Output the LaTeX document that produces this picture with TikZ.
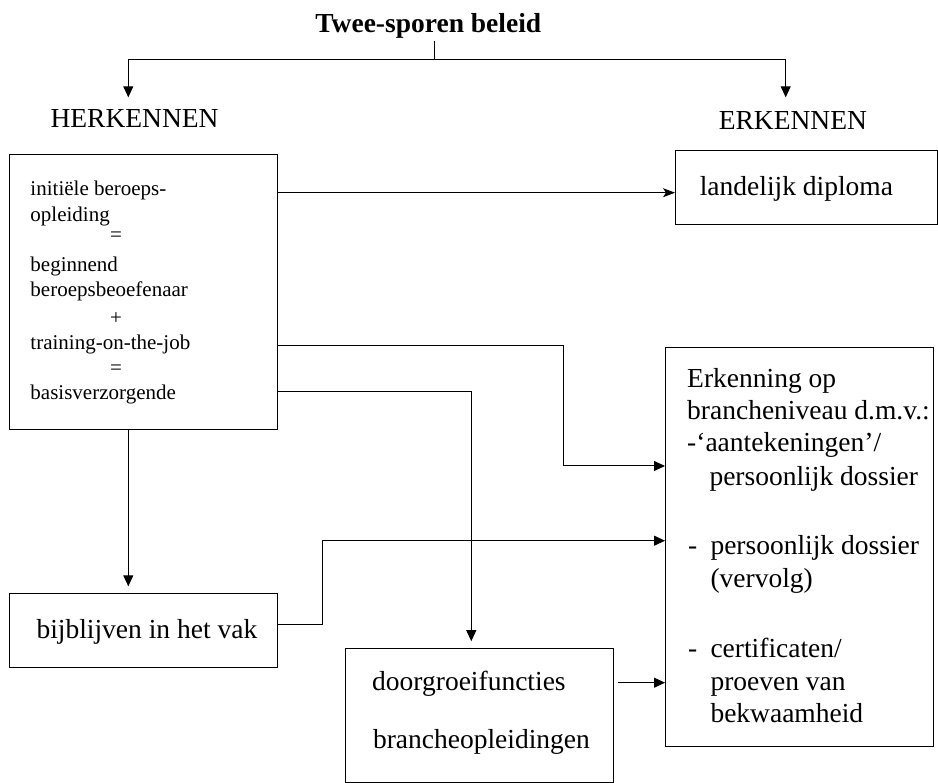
\documentclass[tikz,border=0pt]{standalone}
\usepackage{fontspec}
\setmainfont{Liberation Serif}
\usetikzlibrary{arrows.meta,calc}
\begin{document}
\begin{tikzpicture}[x=1pt,y=-1pt,line width=1pt,
  box/.style={draw,line width=1pt,inner sep=0pt,anchor=north west},
  big/.style={font=\fontsize{27.5}{33}\selectfont,inner sep=0pt,anchor=base west},
  small/.style={font=\fontsize{21}{25.5}\selectfont,inner sep=0pt,anchor=base west},
  arr/.style={-{Triangle[length=11pt,width=10pt]}},
  arrs/.style={-{Stealth[length=12pt,width=9pt,inset=3pt]}}]
\useasboundingbox (0,0) rectangle (938,783);
% title and branch labels
\node[font=\fontsize{27.5}{33}\selectfont\bfseries,inner sep=0pt,anchor=base] (title) at (428.3,32.7) {Twee-sporen beleid};
\node[big] (herk) at (50,127.3) {HERKENNEN};
\node[big] (erkl) at (718.3,129.3) {ERKENNEN};
% boxes
\node[box,minimum width=268pt,minimum height=275pt] (b1) at (9.3,154.3) {};
\node[box,minimum width=262pt,minimum height=74pt] (land) at (675,150) {};
\node[box,minimum width=268.3pt,minimum height=399.3pt] (erk) at (665,346.7) {};
\node[box,minimum width=268.3pt,minimum height=73.4pt] (bij) at (9,593.3) {};
\node[box,minimum width=268.3pt,minimum height=134pt] (door) at (345,647.7) {};
% box 1 text
\node[small] (t1) at (30,196) {initiële beroeps-};
\node[small] (t2) at (30,221.5) {opleiding};
\node[small,anchor=base] (t3) at (116,242) {=};
\node[small] (t4) at (30,271.5) {beginnend};
\node[small] (t5) at (30,296.5) {beroepsbeoefenaar};
\node[small,anchor=base] (t6) at (116,325) {+};
\node[small] (t7) at (30,349.5) {training-on-the-job};
\node[small,anchor=base] (t8) at (116,375) {=};
\node[small] (t9) at (30,400) {basisverzorgende};
% other texts
\node[big] (tland) at (699.3,196) {landelijk diploma};
\node[big] (e1) at (686.7,388) {Erkenning op};
\node[big] (e2) at (686.7,420) {brancheniveau d.m.v.:};
\node[big] (e3) at (686.7,452) {-‘aantekeningen’/};
\node[big] (e4) at (709,485.5) {persoonlijk dossier};
\node[big] (e5) at (687.5,555) {\makebox[22.5pt][l]{-}persoonlijk dossier};
\node[big] (e6) at (710,587) {(vervolg)};
\node[big] (e7) at (687.5,657) {\makebox[22.5pt][l]{-}certificaten/};
\node[big] (e8) at (710,690) {proeven van};
\node[big] (e9) at (710,722) {bekwaamheid};
\node[big] (tbij) at (36,638.3) {bijblijven in het vak};
\node[big] (td1) at (371.7,690) {doorgroeifuncties};
\node[big] (td2) at (372.5,748.3) {brancheopleidingen};
% connectors
\coordinate (split) at (434,59.5);
\coordinate (hk) at (128.3,97.3);
\coordinate (ek) at (785.7,97.3);
\draw ([yshift=-8.3pt]title.base -| split) -- (split);
\draw[arr] (split) -| (hk);
\draw[arr] (split) -| (ek);
\draw[arrs] ($(b1.north east)+(0,38.4)$) -- ($(land.north west)+(0,42.7)$);
\coordinate (j1) at (563.3,400);
\draw[arr] ($(b1.north east)+(0,191.7)$) -| (j1) |- ($(erk.north west)+(0,119.3)$);
\draw[arr,shorten >=6.5pt] ($(b1.north east)+(0,237.7)$) -| ($(door.north west)+(126.3,0)$);
\draw[arr,shorten >=7pt] ($(b1.south west)+(119,0)$) -- ($(bij.north west)+(119.3,0)$);
\coordinate (j2) at (322.7,580);
\draw[arr] ($(bij.north east)+(0,30.7)$) -| (j2) |- ($(erk.north west)+(0,194)$);
\draw[arr,shorten <=3.4pt] ($(door.north east)+(0,35)$) -- ($(erk.north west)+(0,336)$);
\end{tikzpicture}
\end{document}
